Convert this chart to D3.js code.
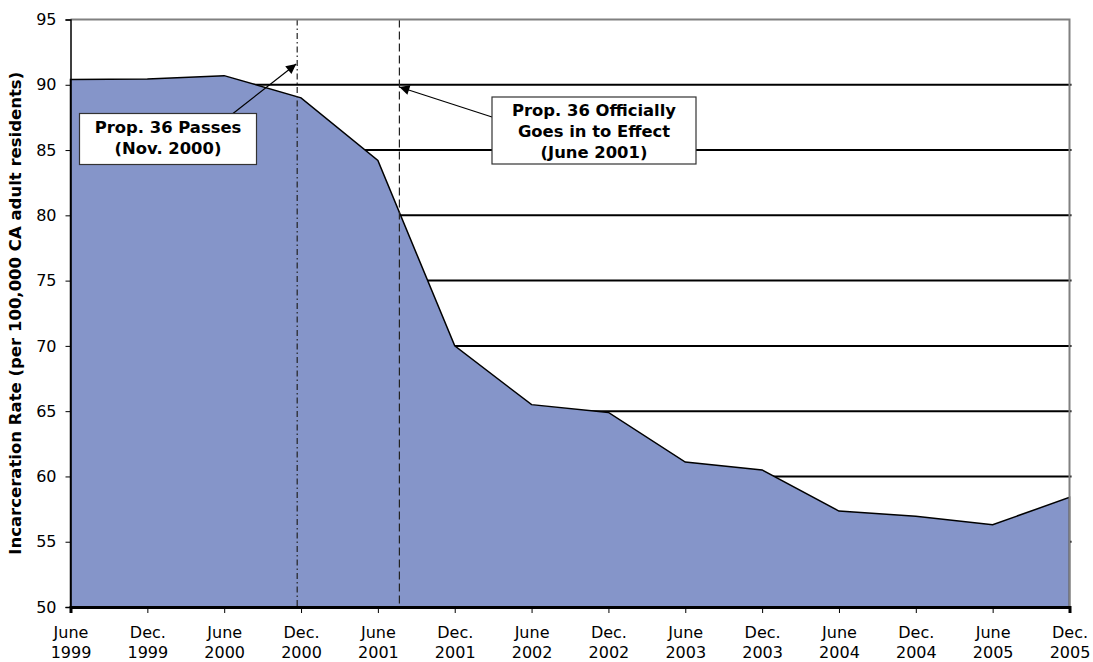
<!DOCTYPE html>
<html>
<head>
<meta charset="utf-8">
<script src="https://cdn.jsdelivr.net/npm/d3@7"></script>
<style>
  body { margin: 0; background: #fff; }
  text { font-family: "DejaVu Sans", Verdana, sans-serif; }
</style>
</head>
<body>
<div id="chart"></div>
<script>
// periods on the x axis (two-line labels)
const periods = ["June 1999", "Dec. 1999", "June 2000", "Dec. 2000", "June 2001", "Dec. 2001", "June 2002",
                 "Dec. 2002", "June 2003", "Dec. 2003", "June 2004", "Dec. 2004", "June 2005", "Dec. 2005"];
// incarceration rate per 100,000 CA adult residents
const rates = [90.4, 90.45, 90.7, 89.0, 84.2, 70.0, 65.5, 64.9, 61.1, 60.5, 57.35, 56.95, 56.3, 58.4];
const yTicks = [50, 55, 60, 65, 70, 75, 80, 85, 90, 95];
// event markers, as position along the period axis
const events = [
    { at: 2.95, dash: "6,3,1.5,3", lines: ["Prop. 36 Passes", "(Nov. 2000)"] },
    { at: 4.28, dash: "8,4", lines: ["Prop. 36 Officially", "Goes in to Effect", "(June 2001)"] }
];

(function () {
    const width = 1093, height = 662;
    const margin = { left: 70.5, right: 23.5, top: 19.5, bottom: 55 };

    let svg = d3.select("#chart")
        .append("svg")
        .attr("width", width)
        .attr("height", height);

    let x = d3.scaleLinear()
        .domain([0, periods.length - 1])
        .range([margin.left, width - margin.right]);

    let y = d3.scaleLinear()
        .domain([50, 95])
        .range([height - margin.bottom, margin.top]);

    const x0 = x.range()[0], x1 = x.range()[1];
    const yb = y(50), yt = y(95);

    // horizontal gridlines (sit behind the area)
    svg.append("g")
        .selectAll("line")
        .data(yTicks.filter(d => d > 50 && d < 95))
        .join("line")
        .attr("x1", x0).attr("x2", x1 + 2)
        .attr("y1", d => y(d)).attr("y2", d => y(d))
        .attr("stroke", "#000")
        .attr("stroke-width", 2);

    // area
    let area = d3.area()
        .x((d, i) => x(i))
        .y0(yb)
        .y1(d => y(d));

    svg.append("path")
        .datum(rates)
        .attr("d", area)
        .attr("fill", "#8595C9")
        .attr("stroke", "#000")
        .attr("stroke-width", 1.5)
        .attr("stroke-linejoin", "miter");

    // vertical event lines
    svg.append("g")
        .selectAll("line")
        .data(events)
        .join("line")
        .attr("x1", d => x(d.at)).attr("x2", d => x(d.at))
        .attr("y1", yt).attr("y2", yb)
        .attr("stroke", "#222")
        .attr("stroke-width", 1.2)
        .attr("stroke-dasharray", d => d.dash);

    // top + right frame (grey)
    svg.append("path")
        .attr("d", `M${x0},${yt}H${x1}V${yb}`)
        .attr("fill", "none")
        .attr("stroke", "#808080")
        .attr("stroke-width", 2);

    // y axis
    let yAxis = svg.append("g")
        .attr("transform", `translate(${x0},0)`)
        .call(d3.axisLeft(y).tickValues(yTicks).tickSize(5).tickPadding(9));
    yAxis.select(".domain").attr("stroke", "#000").attr("stroke-width", 1.5);
    yAxis.selectAll(".tick line").attr("stroke", "#000");
    yAxis.selectAll(".tick text")
        .style("font-size", "16px")
        .attr("fill", "#000");

    // x axis
    let xAxis = svg.append("g")
        .attr("transform", `translate(0,${yb})`)
        .call(d3.axisBottom(x).tickValues(d3.range(periods.length)).tickSize(6).tickFormat(""));
    xAxis.select(".domain").attr("stroke", "#000").attr("stroke-width", 3);
    xAxis.selectAll(".tick line").attr("stroke", "#000");
    xAxis.selectAll(".tick")
        .append("text")
        .attr("fill", "#000")
        .attr("text-anchor", "middle")
        .style("font-size", "16px")
        .selectAll("tspan")
        .data(i => periods[i].split(" "))
        .join("tspan")
        .attr("x", 0)
        .attr("y", (d, j) => 31 + j * 20)
        .text(d => d);

    // y axis title
    svg.append("text")
        .attr("transform", `translate(21, ${(yt + yb) / 2}) rotate(-90)`)
        .attr("text-anchor", "middle")
        .style("font-size", "16.5px")
        .style("font-weight", "bold")
        .text("Incarceration Rate (per 100,000 CA adult residents)");

    // arrows
    svg.append("defs").append("marker")
        .attr("id", "head")
        .attr("viewBox", "0 0 10 10")
        .attr("refX", 10).attr("refY", 5)
        .attr("markerWidth", 12).attr("markerHeight", 10)
        .attr("markerUnits", "userSpaceOnUse")
        .attr("orient", "auto")
        .append("path")
        .attr("d", "M0,0L10,5L0,10Z")
        .attr("fill", "#000");

    const boxes = [
        { x: 79.5, y: 113.5, w: 177, h: 51, from: [233, 113.5], tip: [x(events[0].at) - 1, 64] },
        { x: 492, y: 97, w: 204, h: 67, from: [492, 117], tip: [x(events[1].at), 87] }
    ];

    boxes.forEach(function (b, i) {
        svg.append("line")
            .attr("x1", b.from[0]).attr("y1", b.from[1])
            .attr("x2", b.tip[0]).attr("y2", b.tip[1])
            .attr("stroke", "#000")
            .attr("stroke-width", 1.2)
            .attr("marker-end", "url(#head)");

        let g = svg.append("g");
        g.append("rect")
            .attr("x", b.x).attr("y", b.y)
            .attr("width", b.w).attr("height", b.h)
            .attr("fill", "#fff")
            .attr("stroke", "#333")
            .attr("stroke-width", 1.2);
        g.append("text")
            .attr("text-anchor", "middle")
            .style("font-size", "16.4px")
            .style("font-weight", "bold")
            .selectAll("tspan")
            .data(events[i].lines)
            .join("tspan")
            .attr("x", b.x + b.w / 2)
            .attr("y", (d, j) => b.y + 19 + j * 21)
            .text(d => d);
    });
})();
</script>
</body>
</html>
